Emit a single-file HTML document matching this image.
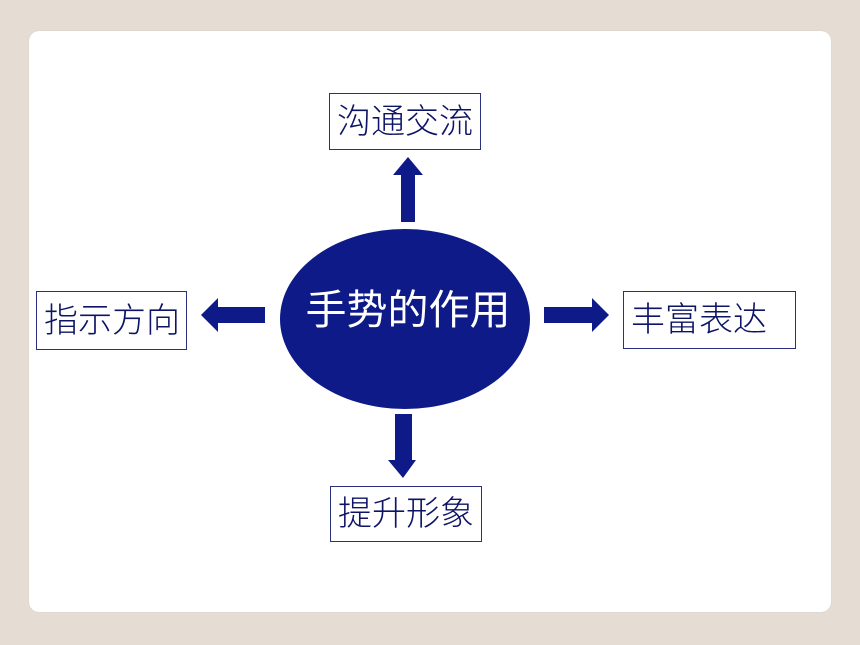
<!DOCTYPE html>
<html><head><meta charset="utf-8"><style>
body{margin:0;width:860px;height:645px;background:#e5ddd3;position:relative;overflow:hidden;font-family:"Liberation Sans","Noto Sans CJK SC",sans-serif}
.card{position:absolute;left:29px;top:31px;width:802px;height:581px;background:#fff;border-radius:10px;box-shadow:0 0 1px #bbb}
.box{position:absolute;border:1px solid #2a2f80;background:#fff;color:#0d1466;font-size:34px;line-height:1;display:flex;align-items:center;box-sizing:border-box;padding-left:7px;white-space:nowrap;font-weight:300}
</style></head><body>
<div class="card"></div>
<svg width="860" height="645" style="position:absolute;left:0;top:0">
<ellipse cx="405" cy="319" rx="125" ry="90" fill="#0d1a87"/>
<text x="408" y="313" font-size="41" fill="#fff" text-anchor="middle" font-family="Liberation Sans, Noto Sans CJK SC, sans-serif" dominant-baseline="middle">手势的作用</text>
<polygon fill="#0d1a87" points="401,222 415,222 415,175 423,175 408,157 393,175 401,175"/>
<polygon fill="#0d1a87" points="544,307 592,307 592,298 609,315 592,332 592,323 544,323"/>
<polygon fill="#0d1a87" points="265,307 218,307 218,298 201,315 218,332 218,323 265,323"/>
<polygon fill="#0d1a87" points="395,414 412,414 412,460 416,460 403,478 388,460 395,460"/>
</svg>
<div class="box" style="left:329px;top:93px;width:152px;height:57px">沟通交流</div>
<div class="box" style="left:36px;top:291px;width:151px;height:59px">指示方向</div>
<div class="box" style="left:623px;top:291px;width:173px;height:58px">丰富表达</div>
<div class="box" style="left:330px;top:486px;width:152px;height:56px">提升形象</div>
</body></html>
